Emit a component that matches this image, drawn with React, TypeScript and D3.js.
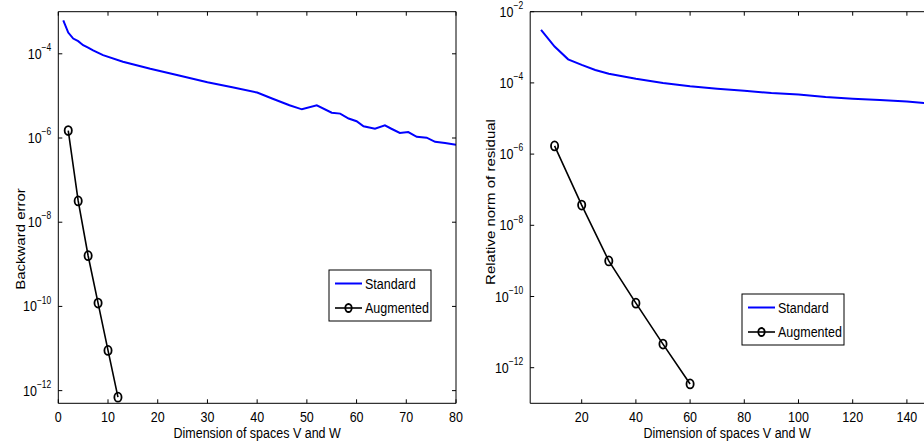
import React from 'react';
import * as d3 from 'd3';

// left panel: backward error
const leftStandardX = [1, 2, 3, 4, 5, 6, 7, 9, 13, 18.5, 24.5, 30, 35, 40, 43, 46.5, 49, 52, 55, 56.7, 58.4, 60, 61.4, 63.7, 65.7, 67, 68.7, 70.4, 72.1, 74.1, 75.8, 77.8, 80];
const leftStandardY = [6.2e-4, 3.2e-4, 2.3e-4, 2.0e-4, 1.6e-4, 1.4e-4, 1.2e-4, 9.3e-5, 6.5e-5, 4.4e-5, 3.0e-5, 2.1e-5, 1.6e-5, 1.2e-5, 8.7e-6, 6.0e-6, 4.8e-6, 6.0e-6, 4.0e-6, 3.8e-6, 2.9e-6, 2.5e-6, 1.9e-6, 1.66e-6, 2.0e-6, 1.66e-6, 1.32e-6, 1.38e-6, 1.07e-6, 1.02e-6, 8.1e-7, 7.6e-7, 6.9e-7];
const leftAugX = [2, 4, 6, 8, 10, 12];
const leftAugY = [1.5e-6, 3.2e-8, 1.6e-9, 1.2e-10, 9e-12, 7e-13];
const leftXTicks = [0, 10, 20, 30, 40, 50, 60, 70, 80];
const leftYTicks = [-12, -10, -8, -6, -4];

// right panel: relative norm of residual
const rightStandardX = [5, 10, 15, 20, 25, 30, 40, 50, 60, 70, 80, 90, 100, 110, 120, 130, 140, 150];
const rightStandardY = [3.1e-3, 1.05e-3, 4.6e-4, 3.2e-4, 2.3e-4, 1.8e-4, 1.3e-4, 1.0e-4, 8.1e-5, 6.9e-5, 6.0e-5, 5.2e-5, 4.7e-5, 4.0e-5, 3.6e-5, 3.3e-5, 3.0e-5, 2.6e-5];
const rightAugX = [10, 20, 30, 40, 50, 60];
const rightAugY = [1.7e-6, 3.7e-8, 1.0e-9, 6.5e-11, 4.6e-12, 3.5e-13];
const rightXTicks = [20, 40, 60, 80, 100, 120, 140];
const rightYTicks = [-12, -10, -8, -6, -4, -2];

const seriesNames = ['Standard', 'Augmented'];
const FONT = '"Liberation Sans", Arial, Helvetica, sans-serif';
const FS = 12.5;
const STRETCH = 1.2; // the source picture is taller than it is wide

type PanelProps = {
  box: { left: number; right: number; top: number; bottom: number };
  xDomain: [number, number];
  yDomain: [number, number];
  xTicks: number[];
  yTicks: number[];
  stdX: number[];
  stdY: number[];
  augX: number[];
  augY: number[];
  yLabel: string;
  yLabelPos: [number, number];
  legend: [number, number];
  clipId: string;
};

// horizontal text, stretched vertically like the source
const HText = ({ x, y, anchor, children }: { x: number; y: number; anchor?: string; children: React.ReactNode }) => (
  <text transform={`translate(${x},${y}) scale(1,${STRETCH})`} textAnchor={anchor || 'start'} fontSize={FS}>
    {children}
  </text>
);

const Panel = (p: PanelProps) => {
  const { box } = p;
  const x = d3.scaleLinear().domain(p.xDomain).range([box.left, box.right]);
  const y = d3.scaleLog().domain(p.yDomain).range([box.bottom, box.top]);
  const line = d3.line<[number, number]>().x(d => x(d[0])).y(d => y(d[1]));
  const std = p.stdX.map((v, i) => [v, p.stdY[i]] as [number, number]);
  const aug = p.augX.map((v, i) => [v, p.augY[i]] as [number, number]);
  const tl = 4;
  const [lx, ly] = p.legend;

  return (
    <g fontFamily={FONT}>
      <defs>
        <clipPath id={p.clipId}>
          <rect x={box.left} y={box.top - 6} width={box.right - box.left} height={box.bottom - box.top + 12} />
        </clipPath>
      </defs>
      <path d={line(std) || ''} fill="none" stroke="#0000ff" strokeWidth={2} clipPath={`url(#${p.clipId})`} />
      <path d={line(aug) || ''} fill="none" stroke="#000" strokeWidth={1.6} />
      {aug.map((d, i) => (
        <ellipse key={i} cx={x(d[0])} cy={y(d[1])} rx={3.6} ry={4.5} fill="none" stroke="#000" strokeWidth={1.8} />
      ))}

      {/* box and ticks */}
      <path
        d={`M${box.left},${box.top}H${box.right}V${box.bottom}H${box.left}Z`}
        fill="none" stroke="#000" strokeWidth={1}
      />
      {p.xTicks.map(t => (
        <g key={t}>
          <line x1={x(t)} x2={x(t)} y1={box.bottom} y2={box.bottom - tl} stroke="#000" />
          <line x1={x(t)} x2={x(t)} y1={box.top} y2={box.top + tl} stroke="#000" />
          <HText x={x(t)} y={box.bottom + 18.3} anchor="middle">{t}</HText>
        </g>
      ))}
      {p.yTicks.map(t => (
        <g key={t}>
          <line x1={box.left} x2={box.left + tl} y1={y(Math.pow(10, t))} y2={y(Math.pow(10, t))} stroke="#000" />
          <line x1={box.right} x2={box.right - tl} y1={y(Math.pow(10, t))} y2={y(Math.pow(10, t))} stroke="#000" />
          <HText x={box.left - 7} y={y(Math.pow(10, t)) + 5} anchor="end">
            10<tspan dy={-6.5} fontSize={8.5}>{'\u2212' + Math.abs(t)}</tspan>
          </HText>
        </g>
      ))}

      <HText x={(box.left + Math.min(box.right, 924)) / 2} y={438} anchor="middle">
        Dimension of spaces V and W
      </HText>
      <text transform={`translate(${p.yLabelPos[0]},${p.yLabelPos[1]}) rotate(-90) scale(${STRETCH},1)`} textAnchor="middle" fontSize={FS}>
        {p.yLabel}
      </text>

      {/* legend */}
      <rect x={lx} y={ly} width={102} height={51} fill="#fff" stroke="#000" strokeWidth={1} />
      <line x1={lx + 6} x2={lx + 33} y1={ly + 13.5} y2={ly + 13.5} stroke="#0000ff" strokeWidth={2} />
      <HText x={lx + 36} y={ly + 18.5}>{seriesNames[0]}</HText>
      <line x1={lx + 6} x2={lx + 33} y1={ly + 38} y2={ly + 38} stroke="#000" strokeWidth={1.6} />
      <ellipse cx={lx + 19.5} cy={ly + 38} rx={3.2} ry={4} fill="none" stroke="#000" strokeWidth={1.8} />
      <HText x={lx + 36} y={ly + 43}>{seriesNames[1]}</HText>
    </g>
  );
};

export default function App() {
  return (
    <svg width={924} height={446} style={{ position: 'absolute', left: 0, top: 0, background: '#fff' }}>
      <rect width={924} height={446} fill="#fff" />
      <Panel
        box={{ left: 58.3, right: 456, top: 11.7, bottom: 403.3 }}
        xDomain={[0, 80]}
        yDomain={[5e-13, 1e-3]}
        xTicks={leftXTicks}
        yTicks={leftYTicks}
        stdX={leftStandardX}
        stdY={leftStandardY}
        augX={leftAugX}
        augY={leftAugY}
        yLabel="Backward error"
        yLabelPos={[24.5, 239]}
        legend={[329, 270]}
        clipId="clipL"
      />
      <Panel
        box={{ left: 530.2, right: 934, top: 11.7, bottom: 403.3 }}
        xDomain={[1, 150]}
        yDomain={[1e-13, 1e-2]}
        xTicks={rightXTicks}
        yTicks={rightYTicks}
        stdX={rightStandardX}
        stdY={rightStandardY}
        augX={rightAugX}
        augY={rightAugY}
        yLabel="Relative norm of residual"
        yLabelPos={[495, 202]}
        legend={[742, 294]}
        clipId="clipR"
      />
    </svg>
  );
}
